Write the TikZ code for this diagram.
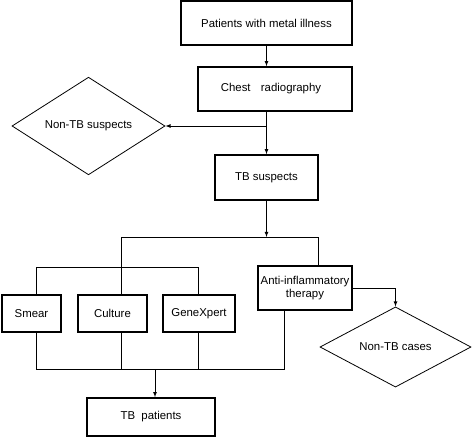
\documentclass[tikz,border=0pt]{standalone}
\usepackage{fontspec}
\setmainfont{Liberation Sans}
\usetikzlibrary{arrows}
\usetikzlibrary{shapes.geometric, positioning}

\begin{document}
\begin{tikzpicture}[x=1pt, y=-1pt, >=latex, line width=0.8pt,
  every node/.style={font=\fontsize{11.4}{13.5}\selectfont},
  box/.style={draw, line width=1.6pt, align=center, inner sep=0pt},
  decision/.style={draw, diamond, line width=0.8pt, inner sep=0pt, minimum width=153pt, minimum height=58pt}]
  \useasboundingbox (0,0) rectangle (472,437);

  \node[box, minimum width=171pt, minimum height=44pt] (pat) at (266.5,23) {Patients with metal illness};
  \node[box, minimum width=154pt, minimum height=44pt] (chest) at (275,89) {Chest\hspace{0.9em}radiography\hspace{0.7em}};
  \node[decision] (nts) at (88.5,126) {Non-TB suspects};
  \node[box, minimum width=103pt, minimum height=45pt] (tbs) at (266.5,177.5) {TB suspects};

  \node[box, minimum width=59pt, minimum height=37pt] (smear) at (31.5,313.5) {Smear};
  \node[box, minimum width=69pt, minimum height=37pt] (culture) at (112.5,313.5) {Culture};
  \node[box, minimum width=72pt, minimum height=37pt] (genex) at (199,313.5) {GeneXpert};
  \node[box, minimum width=94pt, minimum height=44pt] (anti) at (305,288) {Anti-inflammatory\\therapy};
  \node[decision, minimum width=151pt] (ntc) at (395.5,347) {Non-TB cases};
  \node[box, minimum width=128pt, minimum height=38pt] (tbp) at (151,417) {TB~~patients};

  % branching points
  \coordinate (split) at (266.5,237);
  \coordinate (cl) at (121,237);
  \coordinate (cr) at (318,237);
  \coordinate (ml) at (36,267);
  \coordinate (mr) at (198,267);
  \coordinate (bl) at (36,369);
  \coordinate (br) at (284,369);
  \coordinate (join) at (155,369);

  \draw[->] (pat.south) -- (pat.south |- chest.north);
  \draw[->] (tbs.north |- chest.south) -- (tbs.north);
  \draw[->] (tbs.north |- nts.east) -- (nts.east);
  \draw[->] (tbs) -- (split);

  \draw (cl) -- (cr);
  \draw (cl) -- (cl |- culture.north);
  \draw (cr) -- (cr |- anti.north);
  \draw (ml) -- (mr);
  \draw (ml) -- (ml |- smear.north);
  \draw (mr) -- (mr |- genex.north);

  \draw (bl |- smear.south) -- (bl) -- (br) -- (br |- anti.south);
  \draw (cl |- culture.south) -- (cl |- bl);
  \draw (mr |- genex.south) -- (mr |- bl);
  \draw[->] (join) -- (join |- tbp.north);

  \draw[->] (anti.east) -| (ntc.north);
\end{tikzpicture}
\end{document}
